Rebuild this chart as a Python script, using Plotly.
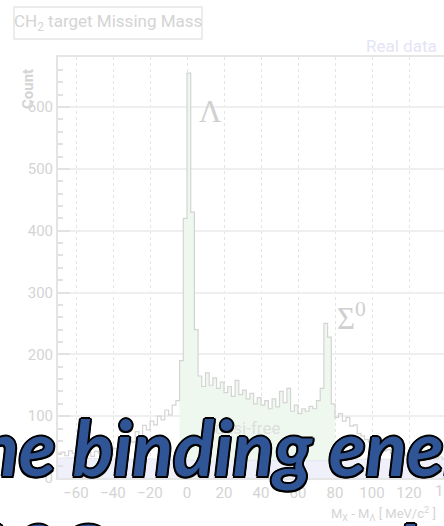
import plotly.graph_objects as go

# ---------------- data ----------------
bin_width = 2
bin_left_edges = list(range(-70, 140, 2))
counts = [
    38, 42, 36, 44, 40, 37, 45, 39, 42, 35,   # -70 .. -52
    43, 40, 46, 38, 44, 48, 42, 55, 50, 62,   # -50 .. -32
    58, 75, 68, 85, 78, 92, 86, 100, 94, 110, # -30 .. -12
    102, 118, 125, 190, 420, 655, 430, 240, 165, 148,  # -10 .. 8
    170, 150, 162, 145, 155, 138, 148, 132, 158, 135,  # 10 .. 28
    142, 128, 137, 120, 130, 118, 125, 112, 128, 115,  # 30 .. 48
    140, 122, 145, 108, 118, 104, 112, 108, 116, 112,  # 50 .. 68
    125, 145, 250, 228, 120, 98, 104, 92, 98, 84,      # 70 .. 88
    86, 72, 68, 62, 58, 60, 48, 52, 44, 46,            # 90 .. 108
    40, 42, 38, 40, 36, 38, 35, 37, 34, 36,            # 110 .. 128
    33, 35, 32, 34, 31,                                # 130 .. 138
]
quasi_free_range = (-4, 80)

bg_x = [-70, -60, -50, -40, -30, -20, -10, 0, 10, 20, 30, 40, 50, 60, 70, 80, 90, 100, 110, 120, 130, 140]
bg_counts = [32, 33, 31, 32, 30, 31, 30, 29, 28, 27, 28, 29, 28, 28, 27, 28, 30, 31, 30, 31, 30, 30]

x_tick_vals = [-60, -40, -20, 0, 20, 40, 60, 80, 100, 120]
y_tick_vals = [0, 100, 200, 300, 400, 500, 600]

title_text = "CH<sub>2</sub> target Missing Mass"
legend_text = "Real data"
y_title = "Count"
x_title = "M<sub>X</sub> - M<sub>Λ</sub> [ MeV/c<sup>2</sup> ]"
line1_text = "The binding energy"
line2_text = "12C - target data"

# ---------------- layout geometry ----------------
W, H = 444, 526
L, R, T, B = 58, 0, 57, 48
PW, PH = W - L - R, H - T - B


def px(x):
    return (x - L) / PW


def py(y):
    return (H - B - y) / PH


COND = "Roboto, Liberation Sans, sans-serif"
FAINT = "#d4d4d4"

# step-line arrays
step_x, step_y = [], []
for e, c in zip(bin_left_edges, counts):
    step_x += [e, e + bin_width]
    step_y += [c, c]

qf_x, qf_y = [], []
for e, c in zip(bin_left_edges, counts):
    if quasi_free_range[0] <= e < quasi_free_range[1]:
        qf_x += [e, e + bin_width]
        qf_y += [c, c]

fig = go.Figure()
fig.add_trace(go.Scatter(x=qf_x, y=qf_y, mode="lines", line=dict(width=0),
                         fill="tozeroy", fillcolor="#eef8ee", hoverinfo="skip"))
fig.add_trace(go.Scatter(x=bg_x, y=bg_counts, mode="lines", line=dict(width=1, color="#e6e6f2"),
                         fill="tozeroy", fillcolor="#f0f0fa", hoverinfo="skip"))
fig.add_trace(go.Scatter(x=step_x, y=step_y, mode="lines",
                         line=dict(width=1.2, color="#d4d4d4"), hoverinfo="skip"))

xr = [(-187 + L) / 1.85, (W - 187) / 1.85]

fig.update_layout(
    width=W, height=H,
    margin=dict(l=L, r=R, t=T, b=B),
    paper_bgcolor="white", plot_bgcolor="white",
    showlegend=False,
    xaxis=dict(range=xr, tickvals=x_tick_vals, ticks="", showgrid=True,
               gridcolor="#e4e4e4", griddash="dot", gridwidth=1,
               showline=True, linecolor="#e6e6e6", linewidth=2, mirror=True,
               zeroline=False, tickfont=dict(family=COND, size=15, color=FAINT)),
    yaxis=dict(range=[0, 681], tickvals=y_tick_vals, ticks="inside", ticklen=12,
               tickcolor="#e2e2e2", tickwidth=1.5,
               minor=dict(dtick=20, ticks="inside", ticklen=5, tickcolor="#e2e2e2", showgrid=False),
               showgrid=True, gridcolor="#efefef", gridwidth=1.5,
               showline=True, linecolor="#e4e4e4", linewidth=2,
               zeroline=False, tickfont=dict(family=COND, size=15, color=FAINT)),
)

shapes = [dict(type="rect", xref="paper", yref="paper",
               x0=px(14), x1=px(202), y0=py(39), y1=py(7),
               line=dict(color="#e6e6e6", width=1.5), fillcolor="white")]
fig.update_layout(shapes=shapes)

ann = []
ann.append(dict(text=title_text, x=px(108), y=py(23), font=dict(family=COND, size=17, color=FAINT)))
ann.append(dict(text=legend_text, x=px(401), y=py(46), font=dict(family=COND, size=17, color="#e4e4f6")))
ann.append(dict(text=y_title, x=px(28), y=py(89), textangle=-90,
                font=dict(family=COND, size=15, color=FAINT, weight="bold")))
ann.append(dict(text="Λ", x=px(210), y=py(111), font=dict(family="Liberation Serif", size=31, color="#d0d0d0")))
ann.append(dict(text="Σ<sup>0</sup>", x=px(351), y=py(316), font=dict(family="Liberation Serif", size=31, color="#d0d0d0")))
ann.append(dict(text="Quasi-free", x=px(241), y=py(428), font=dict(family=COND, size=17, color="#dedede")))
ann.append(dict(text=x_title, x=px(438), y=py(514), xanchor="right", font=dict(family=COND, size=13, color=FAINT)))
ann.append(dict(text="140", x=px(447), y=py(491), font=dict(family=COND, size=15, color=FAINT)))

outline = ", ".join(f"{dx}px {dy}px 0 #000" for dx, dy in
                    [(-1.5, -1.5), (1.5, -1.5), (-1.5, 1.5), (1.5, 1.5), (0, 2), (0, -2), (2, 0), (-2, 0)])
big = dict(family="Lato, Open Sans, sans-serif", size=76, color="#2F5597",
           weight="bold", style="italic", shadow=outline)
ann.append(dict(text=line1_text, x=px(-66), y=py(446), xanchor="left", yanchor="middle", font=big))
ann.append(dict(text=line2_text, x=px(-34), y=py(551), xanchor="left", yanchor="middle", font=big))

for a in ann:
    a.setdefault("xref", "paper")
    a.setdefault("yref", "paper")
    a.setdefault("xanchor", "center")
    a.setdefault("yanchor", "middle")
    a.setdefault("showarrow", False)
fig.update_layout(annotations=ann)

fig.write_html("out.html", config={"displayModeBar": False},
               post_script="document.body.style.margin='0';")
